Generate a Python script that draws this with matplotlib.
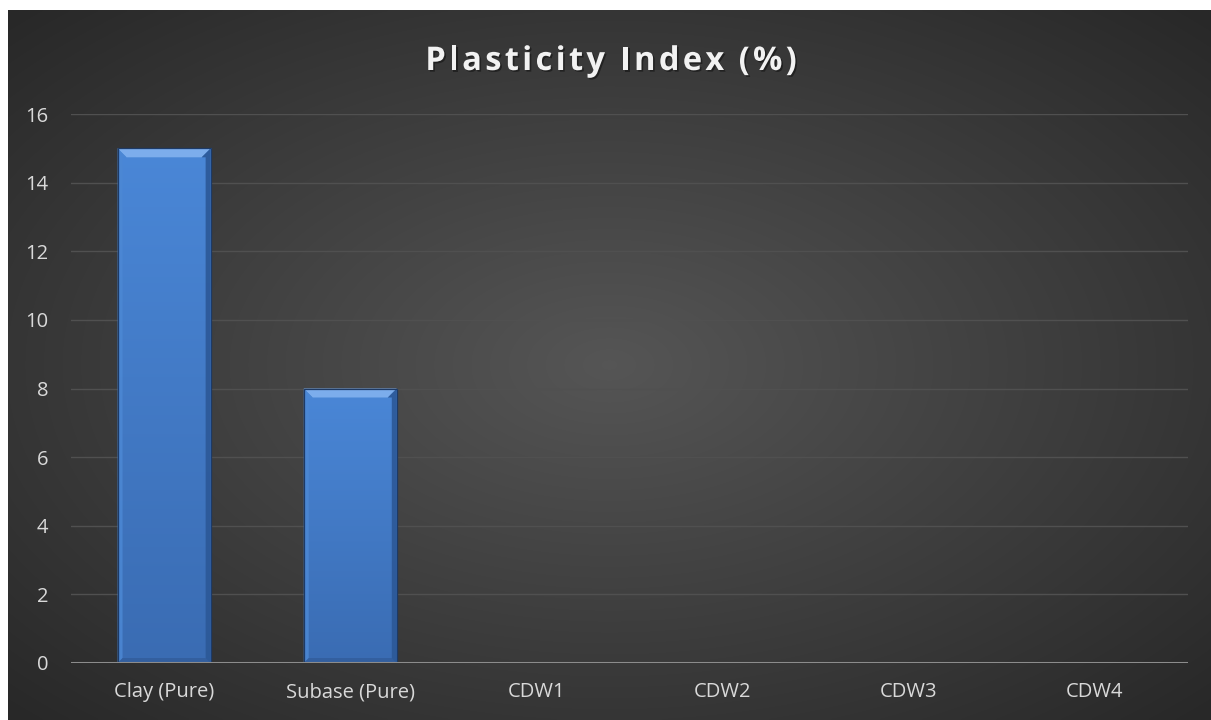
import numpy as np
import matplotlib
matplotlib.use("Agg")
import matplotlib.pyplot as plt
import matplotlib.patheffects as pe
from matplotlib.patches import Polygon
from matplotlib.colors import LinearSegmentedColormap

categories = ["Clay (Pure)", "Subase (Pure)", "CDW1", "CDW2", "CDW3", "CDW4"]
plasticity = [15, 8, 0, 0, 0, 0]
yticks = [0, 2, 4, 6, 8, 10, 12, 14, 16]

W, H = 1211, 720
fig = plt.figure(figsize=(W / 100, H / 100), dpi=100, facecolor="white")

# dark panel with a soft radial light in the middle
bg = fig.add_axes([8 / W, 0, 1 - 8 / W, 1 - 10 / H])
bg.axis("off")
yy, xx = np.mgrid[0:1:300j, 0:1:500j]
r = np.sqrt(((xx - 0.5) / 0.75) ** 2 + ((yy - 0.5) / 0.75) ** 2)
shade = np.clip(0.335 - 0.19 * r, 0.16, 0.34)
bg.imshow(np.dstack([shade] * 3), aspect="auto", extent=[0, 1, 0, 1], interpolation="bilinear")

ax = fig.add_axes([71 / W, (H - 663) / H, (1188 - 71) / W, (663 - 114) / H])
ax.set_facecolor("none")
x = np.arange(len(categories))
ax.set_xlim(-0.5, len(categories) - 0.5)
ax.set_ylim(0, 16)

for t in yticks[1:]:
    ax.axhline(t, color="#505050", lw=1, zorder=0)

bars = ax.bar(x, plasticity, width=0.5, color="#4680cf", lw=0, zorder=2)

bar_cmap = LinearSegmentedColormap.from_list("bar", ["#3a6cb3", "#4a87d7"])

# vertical gradient and bevelled edges on each bar
fig.canvas.draw()
inv = ax.transData.inverted()
for b in bars:
    h = b.get_height()
    if h <= 0:
        continue
    x0, y0 = b.get_x(), b.get_y()
    x1, y1 = x0 + b.get_width(), y0 + h
    grad = np.linspace(0, 1, 200).reshape(-1, 1)
    im = ax.imshow(grad, cmap=bar_cmap, origin="lower", aspect="auto",
                   extent=[x0, x1, y0, y1], zorder=2.5, interpolation="bilinear")
    im.set_clip_path(b)
    (px0, py0), (px1, py1) = ax.transData.transform([(x0, y0), (x1, y1)])
    d = 9
    (ix0, iy1), (ix1, _) = inv.transform([(px0 + d, py1 - d), (px1 - d, py1 - d)])
    sx0 = inv.transform([(px0 + 5, 0)])[0][0]
    sx1 = inv.transform([(px1 - 5, 0)])[0][0]
    by = inv.transform([(0, py0 + 5)])[0][1]
    ax.add_patch(Polygon([(x0, y1), (x1, y1), (ix1, iy1), (ix0, iy1)],
                         color="#7cadec", lw=0, zorder=3))
    ax.add_patch(Polygon([(x0, y1), (ix0, iy1), (sx0, iy1), (sx0, y0), (x0, y0)],
                         color="#4c88d4", alpha=0.85, lw=0, zorder=3))
    ax.add_patch(Polygon([(x1, y1), (ix1, iy1), (sx1, iy1), (sx1, y0), (x1, y0)],
                         color="#2c5897", alpha=0.9, lw=0, zorder=3))
    ax.add_patch(Polygon([(x0, y0), (x1, y0), (sx1, by), (sx0, by)],
                         color="#335f9f", lw=0, zorder=3))
    ax.add_patch(plt.Rectangle((x0, y0), x1 - x0, y1 - y0, fill=False,
                               ec="#1d3a66", lw=0.9, zorder=4))

ax.axhline(0, color="#8c8c8c", lw=2.2, zorder=5)
for s in ax.spines.values():
    s.set_visible(False)
ax.set_yticks(yticks)
ax.set_xticks(x)
ax.set_xticklabels(categories)
ax.tick_params(axis="both", length=0, colors="#d9d9d9", labelsize=14.5)
ax.tick_params(axis="y", pad=16.5)
ax.tick_params(axis="x", pad=14)
for lab in ax.get_xticklabels() + ax.get_yticklabels():
    lab.set_fontfamily("Open Sans")

# title drawn letter by letter to get the wide tracking
title = "Plasticity Index (%)"
tprops = dict(fontsize=23.5, fontweight="bold", family="Open Sans", color="#f2f2f2")
renderer = fig.canvas.get_renderer()
probe = fig.text(0, 0, title, **tprops)
full_w = probe.get_window_extent(renderer).width
offsets = []
for i in range(len(title)):
    probe.set_text(title[:i])
    offsets.append(probe.get_window_extent(renderer).width if i else 0.0)
probe.remove()
track = 3.3
total = full_w + track * (len(title) - 1)
start = 611 - total / 2
shadow = [pe.withSimplePatchShadow(offset=(1.2, -1.2), shadow_rgbFace="black", alpha=0.4)]
for i, ch in enumerate(title):
    fig.text((start + offsets[i] + track * i) / W, 1 - 70 / H, ch, ha="left", va="baseline",
             path_effects=shadow, **tprops)

fig.savefig("out.png", dpi=100, facecolor="white")
